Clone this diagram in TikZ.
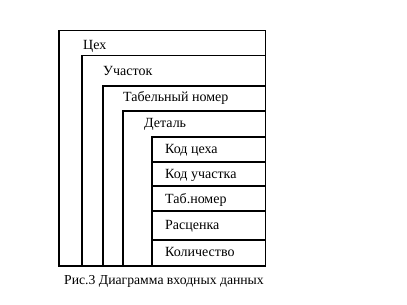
\documentclass[tikz,border=0pt]{standalone}
\usepackage{fontspec}
\setmainfont{Liberation Serif}
\begin{document}
\begin{tikzpicture}[x=1pt,y=-1pt,
  frame/.style={line width=1.3pt, line cap=rect},
  lbl/.style={anchor=base west, inner sep=0pt, font=\fontsize{14}{16}\selectfont}]
\useasboundingbox[fill=white] (0,0) rectangle (407,305);
% outer box
\draw[frame] (59,30.5) -- (265.5,30.5) -- (265.5,266) -- (59,266) -- cycle;
% nested levels
\draw[frame] (82,266) -- (82,55.5) -- (265.5,55.5);
\draw[frame] (103,266) -- (103,86) -- (265.5,86);
\draw[frame] (123,266) -- (123,111) -- (265.5,111);
\draw[frame] (152,266) -- (152,137) -- (265.5,137);
% rows of innermost box
\foreach \yy in {162,186,211,240} \draw[frame] (152,\yy) -- (265.5,\yy);
% labels
\node[lbl] (ceh) at (83,50) {Цех};
\node[lbl] (uch) at (103,75) {Участок};
\node[lbl] (tab) at (123,101) {Табельный номер};
\node[lbl] (det) at (144,127) {Деталь};
\node[lbl] (kc) at (165,153) {Код цеха};
\node[lbl] (ku) at (165,178) {Код участка};
\node[lbl] (tn) at (165,203) {Таб.номер};
\node[lbl] (ras) at (165,229) {Расценка};
\node[lbl] (kol) at (165,256) {Количество};
\node[anchor=base, inner sep=0pt, font=\fontsize{13.7}{16}\selectfont] (cap) at (164,284) {Рис.3 Диаграмма входных данных};
\end{tikzpicture}
\end{document}
